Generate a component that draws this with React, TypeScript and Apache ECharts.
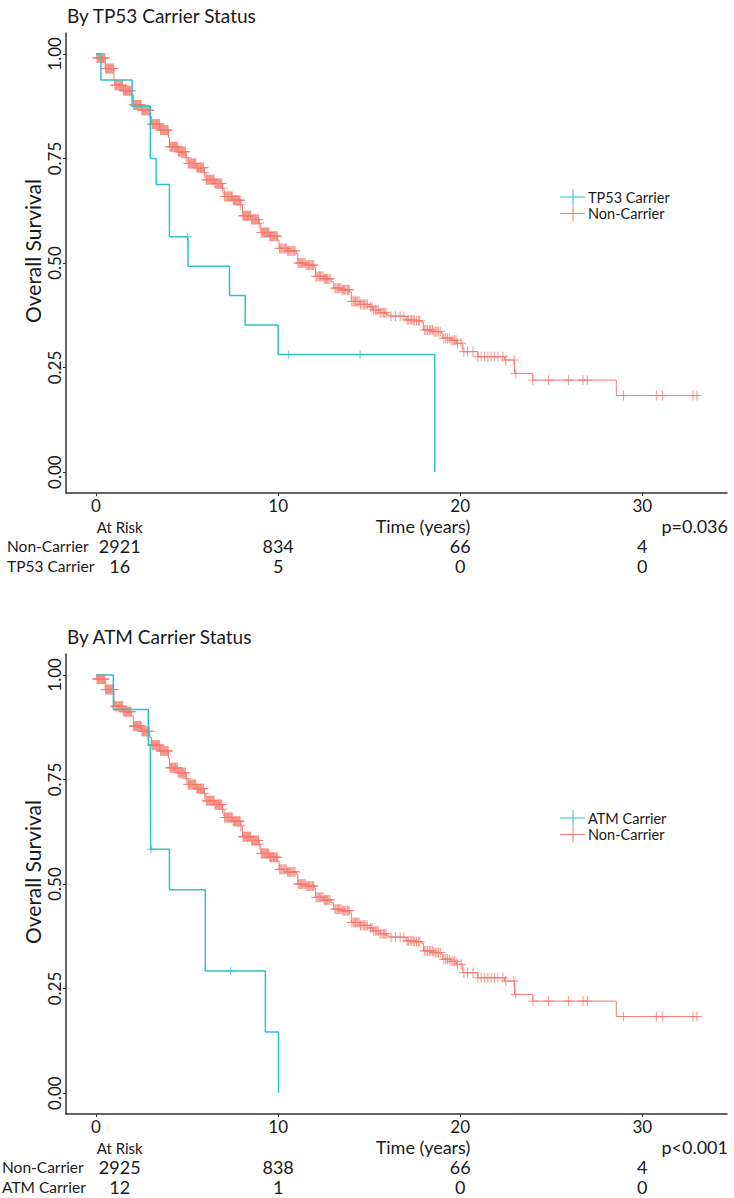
import React, { useEffect, useRef } from "react";
import * as echarts from "echarts";

// ---------- data ----------
const xTicks = [0, 10, 20, 30];
const yTicks = [0, 0.25, 0.5, 0.75, 1];
const riskColumns = [1.3, 10, 20, 30];

// Non-carrier KM curve (same shape in both panels)
const nonCarrierTime = [
  0, 0.05, 0.5, 0.98, 1.02, 1.5, 1.95, 2.05, 2.5, 2.95, 3.05, 3.5, 3.98, 4.03, 4.5, 4.95,
  5.05, 5.5, 5.95, 6.03, 6.5, 6.95, 7.03, 7.5, 7.95, 8.04, 8.5, 8.95, 9.05, 9.5, 9.96,
  10.05, 10.5, 10.99, 11.08, 11.5, 11.99, 12.05, 12.5, 12.91, 13.05, 13.5, 13.92, 14.02,
  14.5, 15.0, 15.2, 15.6, 15.95, 16.1, 16.85, 17.03, 17.5, 17.9, 17.98, 18.5, 18.96,
  19.04, 19.5, 19.78, 20.14, 20.97, 22.43, 22.98, 23.99, 28.57, 33.1,
];
const nonCarrierSurv = [
  1, 0.99, 0.965, 0.94, 0.925, 0.912, 0.902, 0.878, 0.865, 0.85, 0.832, 0.818, 0.8, 0.778,
  0.766, 0.752, 0.738, 0.728, 0.716, 0.699, 0.69, 0.679, 0.659, 0.65, 0.639, 0.613, 0.604,
  0.595, 0.573, 0.564, 0.555, 0.535, 0.529, 0.523, 0.5, 0.495, 0.49, 0.468, 0.462, 0.455,
  0.44, 0.436, 0.431, 0.408, 0.401, 0.395, 0.388, 0.381, 0.376, 0.373, 0.372, 0.364, 0.362,
  0.358, 0.34, 0.336, 0.332, 0.32, 0.315, 0.308, 0.288, 0.276, 0.268, 0.236, 0.22, 0.183,
  0.183,
];
const nonCarrierCensorA = [
  0.05, 0.13, 0.2, 0.29, 0.36, 0.45, 0.52, 0.61, 0.68, 0.77, 0.84, 0.93,
  1.04, 1.12, 1.21, 1.29, 1.38, 1.45, 1.54, 1.62, 1.71, 1.79, 1.88,
  2.06, 2.15, 2.22, 2.31, 2.39, 2.48, 2.56, 2.65, 2.73, 2.82, 2.9,
  3.07, 3.15, 3.24, 3.32, 3.41, 3.49, 3.58, 3.66, 3.75, 3.83, 3.92,
  4.06, 4.14, 4.23, 4.31, 4.4, 4.48, 4.57, 4.65, 4.74, 4.82, 4.91,
  5.06, 5.14, 5.23, 5.31, 5.4, 5.48, 5.57, 5.65, 5.74, 5.82, 5.91,
  6.06, 6.14, 6.23, 6.31, 6.4, 6.48, 6.57, 6.65, 6.74, 6.82, 6.91,
  7.06, 7.14, 7.23, 7.31, 7.4, 7.48, 7.57, 7.65, 7.74, 7.82, 7.91,
  8.07, 8.15, 8.24, 8.32, 8.41, 8.49, 8.58, 8.66, 8.75, 8.83, 8.92,
  9.07, 9.15, 9.24, 9.32, 9.41, 9.49, 9.58, 9.66, 9.75, 9.83, 9.92,
  10.08, 10.2, 10.33, 10.45, 10.58, 10.7, 10.82, 10.93,
  11.1, 11.22, 11.35, 11.48, 11.6, 11.73, 11.86, 11.95,
  12.08, 12.2, 12.33, 12.47, 12.6, 12.72, 12.85,
  13.12, 13.25, 13.38, 13.52, 13.65, 13.8, 13.9,
  14.05, 14.18, 14.32, 14.45, 14.6, 14.75, 14.9,
  15.08, 15.25, 15.42, 15.6, 15.78, 15.92,
  16.2, 16.45, 16.7, 16.9,
  17.08, 17.25, 17.42, 17.6, 17.78,
  18.05, 18.2, 18.38, 18.55, 18.72, 18.9,
  19.1, 19.3, 19.5, 19.68, 19.85,
  20.05, 20.2, 20.4, 20.7, 20.97, 21.15, 21.34, 21.52, 21.7, 21.88, 22.07, 22.34, 22.5,
  22.95, 23.05, 23.99, 24.85, 25.95, 26.74, 26.98, 28.97, 30.77, 31.1, 32.78, 33.0,
];
const nonCarrierCensorB = [
  0.09, 0.17, 0.25, 0.33, 0.41, 0.49, 0.57, 0.65, 0.73, 0.81, 0.89, 0.97,
  1.08, 1.16, 1.25, 1.34, 1.42, 1.5, 1.58, 1.67, 1.75, 1.84, 1.92,
  2.1, 2.18, 2.27, 2.35, 2.44, 2.52, 2.61, 2.69, 2.78, 2.86, 2.94,
  3.11, 3.2, 3.28, 3.37, 3.45, 3.54, 3.62, 3.71, 3.79, 3.88, 3.96,
  4.1, 4.19, 4.27, 4.36, 4.44, 4.53, 4.61, 4.7, 4.78, 4.87, 4.95,
  5.1, 5.19, 5.27, 5.36, 5.44, 5.53, 5.61, 5.7, 5.78, 5.87, 5.95,
  6.1, 6.19, 6.27, 6.36, 6.44, 6.53, 6.61, 6.7, 6.78, 6.87, 6.95,
  7.1, 7.19, 7.27, 7.36, 7.44, 7.53, 7.61, 7.7, 7.78, 7.87, 7.95,
  8.11, 8.2, 8.28, 8.37, 8.45, 8.54, 8.62, 8.71, 8.79, 8.88, 8.96,
  9.11, 9.2, 9.28, 9.37, 9.45, 9.54, 9.62, 9.71, 9.79, 9.88, 9.95,
  10.14, 10.27, 10.39, 10.52, 10.64, 10.76, 10.88,
  11.16, 11.29, 11.42, 11.54, 11.67, 11.8, 11.9,
  12.14, 12.27, 12.4, 12.54, 12.66, 12.79,
  13.18, 13.32, 13.45, 13.58, 13.72, 13.85,
  14.12, 14.25, 14.38, 14.52, 14.68, 14.82,
  15.16, 15.34, 15.5, 15.7, 15.85,
  17.15, 17.33, 17.5, 17.7,
  18.12, 18.3, 18.47, 18.63, 18.8,
  19.2, 19.4, 19.6, 19.77,
];
const nonCarrierCensor = nonCarrierCensorA.concat(nonCarrierCensorB);

// TP53 carriers
const tp53Time = [0, 0.27, 1.98, 2.98, 3.3, 4.03, 5.05, 7.33, 8.19, 10.0, 18.6];
const tp53Surv = [1, 0.9375, 0.875, 0.75, 0.6875, 0.5625, 0.492, 0.422, 0.352, 0.281, 0];
const tp53Censor = [5.03, 10.58, 14.5];

// ATM carriers
const atmTime = [0, 0.95, 2.87, 2.98, 3.0, 4.03, 6.0, 9.3, 10.02];
const atmSurv = [1, 0.917, 0.833, 0.75, 0.583, 0.486, 0.292, 0.146, 0];
const atmCensor = [3.02, 7.38];

// Numbers at risk
const tp53RiskNon = [2921, 834, 66, 4];
const tp53RiskCarrier = [16, 5, 0, 0];
const atmRiskNon = [2925, 838, 66, 4];
const atmRiskCarrier = [12, 1, 0, 0];

const panels = [
  {
    title: "By TP53 Carrier Status",
    carrier: "TP53 Carrier",
    time: tp53Time,
    surv: tp53Surv,
    censor: tp53Censor,
    pText: "p=0.036",
    riskNon: tp53RiskNon,
    riskCarrier: tp53RiskCarrier,
    rowX: 7,
  },
  {
    title: "By ATM Carrier Status",
    carrier: "ATM Carrier",
    time: atmTime,
    surv: atmSurv,
    censor: atmCensor,
    pText: "p<0.001",
    riskNon: atmRiskNon,
    riskCarrier: atmRiskCarrier,
    rowX: 2,
  },
];

// ---------- style / layout ----------
const FONT = "Lato, 'Open Sans', sans-serif";
const TEAL = "#2EC4C6";
const SALMON = "#F47B6F";
const AXIS = "#333333";
const TXT = "#1a1a1a";
const GRID_LEFT = 66;
const GRID_W = 661;
const GRID_H = 460;
const X_MIN = -1.65;
const X_MAX = 34.65;
const PANEL_TOP = [33, 654];
const SHIFT = 621;
const PLUS = "path://M5,0L5,10M0,5L10,5";

const xPx = (t: number) => GRID_LEFT + ((t - X_MIN) / (X_MAX - X_MIN)) * GRID_W;

function stepValue(times: number[], surv: number[], t: number) {
  let v = surv[0];
  for (let i = 0; i < times.length; i++) {
    if (times[i] <= t) v = surv[i];
  }
  return v;
}

function txt(text: string, x: number, y: number, size: number, align: string, extra: any = {}) {
  return {
    type: "text",
    x,
    y,
    ...extra,
    style: {
      text,
      fontSize: size,
      fontFamily: FONT,
      fill: TXT,
      align,
      verticalAlign: "middle",
    },
  };
}

function buildOption() {
  const grid: any[] = [];
  const xAxis: any[] = [];
  const yAxis: any[] = [];
  const series: any[] = [];
  const graphic: any[] = [];

  panels.forEach((p, i) => {
    const dy = i * SHIFT;
    grid.push({ left: GRID_LEFT, top: PANEL_TOP[i], width: GRID_W, height: GRID_H });
    xAxis.push({
      gridIndex: i,
      type: "value",
      min: X_MIN,
      max: X_MAX,
      axisLine: { show: true, onZero: false, lineStyle: { color: AXIS, width: 1.5 } },
      axisTick: { show: true, length: 3, customValues: xTicks, lineStyle: { color: AXIS } },
      axisLabel: {
        customValues: xTicks,
        fontSize: 17,
        fontFamily: FONT,
        color: TXT,
        margin: 4,
      },
      splitLine: { show: false },
    });
    yAxis.push({
      gridIndex: i,
      type: "value",
      min: -0.05,
      max: 1.05,
      axisLine: { show: true, onZero: false, lineStyle: { color: AXIS, width: 1.5 } },
      axisTick: { show: true, length: 3, customValues: yTicks, lineStyle: { color: AXIS } },
      axisLabel: {
        customValues: yTicks,
        rotate: 90,
        formatter: (v: number) => v.toFixed(2),
        fontSize: 17,
        fontFamily: FONT,
        color: TXT,
        margin: 3,
      },
      splitLine: { show: false },
    });

    series.push({
      type: "line",
      name: "Non-Carrier " + i,
      xAxisIndex: i,
      yAxisIndex: i,
      step: "end",
      symbol: "none",
      data: nonCarrierTime.map((t, k) => [t, nonCarrierSurv[k]]),
      lineStyle: { color: SALMON, width: 1 },
      z: 2,
    });
    series.push({
      type: "scatter",
      name: "Non-Carrier censor " + i,
      xAxisIndex: i,
      yAxisIndex: i,
      symbol: PLUS,
      symbolSize: 10,
      data: nonCarrierCensor.map((t) => [t, stepValue(nonCarrierTime, nonCarrierSurv, t)]),
      itemStyle: { color: "none", borderColor: SALMON, borderWidth: 1 },
      z: 2,
    });
    series.push({
      type: "line",
      name: p.carrier,
      xAxisIndex: i,
      yAxisIndex: i,
      step: "end",
      symbol: "none",
      data: p.time.map((t, k) => [t, p.surv[k]]),
      lineStyle: { color: TEAL, width: 1.5 },
      z: 3,
    });
    series.push({
      type: "scatter",
      name: p.carrier + " censor",
      xAxisIndex: i,
      yAxisIndex: i,
      symbol: PLUS,
      symbolSize: 8,
      data: p.censor.map((t) => [t, stepValue(p.time, p.surv, t)]),
      itemStyle: { color: "none", borderColor: TEAL, borderWidth: 1 },
      z: 3,
    });

    // title
    graphic.push(txt(p.title, 67, 15 + dy, 19, "left"));
    // y axis title
    graphic.push(txt("Overall Survival", 32, 251 + dy, 21, "center", { rotation: Math.PI / 2 }));

    // legend
    const legendItems = [
      { name: p.carrier, color: TEAL },
      { name: "Non-Carrier", color: SALMON },
    ];
    legendItems.forEach((it, k) => {
      const ly = 197 + dy + k * 16.5;
      graphic.push({
        type: "line",
        shape: { x1: 560, y1: ly, x2: 585, y2: ly },
        style: { stroke: it.color, lineWidth: 1 },
      });
      graphic.push({
        type: "line",
        shape: { x1: 573, y1: ly - 8, x2: 573, y2: ly + 8 },
        style: { stroke: it.color, lineWidth: 1 },
      });
      graphic.push(txt(it.name, 588, ly, 14.5, "left"));
    });

    // time label + p value
    graphic.push(txt("Time (years)", 423, 526 + dy, 18, "center"));
    graphic.push(txt(p.pText, 728, 526 + dy, 18, "right"));

    // at-risk table
    graphic.push(txt("At Risk", xPx(riskColumns[0]), 527 + dy, 15, "center"));
    const rows = [
      { label: "Non-Carrier", vals: p.riskNon, y: 546 },
      { label: p.carrier, vals: p.riskCarrier, y: 566 },
    ];
    rows.forEach((r) => {
      graphic.push(txt(r.label, p.rowX, r.y + dy, 15.5, "left"));
      r.vals.forEach((v, c) => {
        graphic.push(txt(String(v), xPx(riskColumns[c]), r.y + dy, 18, "center"));
      });
    });
  });

  return {
    animation: false,
    backgroundColor: "#ffffff",
    grid,
    xAxis,
    yAxis,
    series,
    graphic,
  };
}

export default function App() {
  const ref = useRef<HTMLDivElement>(null);
  useEffect(() => {
    if (!ref.current) return;
    const chart = echarts.init(ref.current, undefined, { renderer: "svg" });
    chart.setOption(buildOption() as any);
    return () => chart.dispose();
  }, []);
  return (
    <div
      ref={ref}
      style={{ position: "absolute", left: 0, top: 0, width: 734, height: 1198, background: "#fff" }}
    />
  );
}
